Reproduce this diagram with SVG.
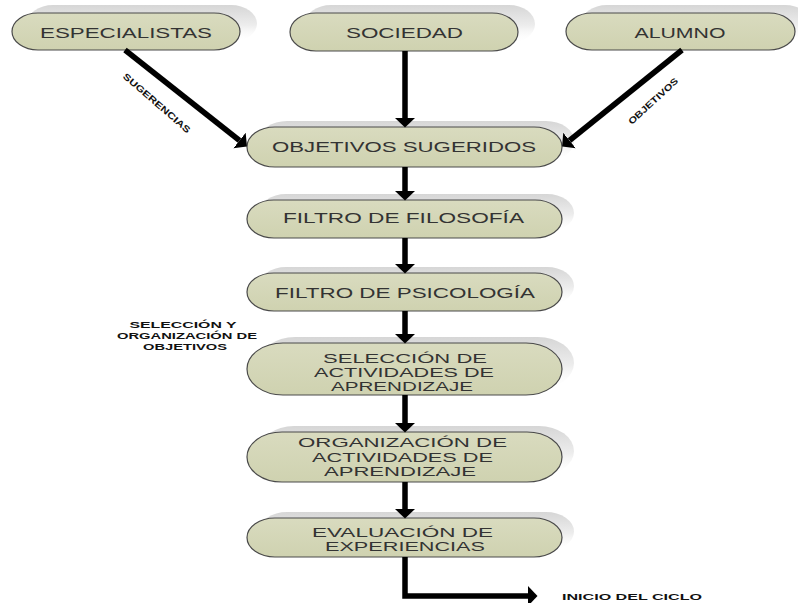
<svg xmlns="http://www.w3.org/2000/svg" width="798" height="603" viewBox="0 0 798 603">
  <defs>
    <linearGradient id="shade" x1="0" y1="0" x2="0" y2="1">
      <stop offset="0" stop-color="#d6d6d6"/>
      <stop offset="0.55" stop-color="#ededed"/>
      <stop offset="1" stop-color="#ffffff" stop-opacity="0"/>
    </linearGradient>
    <linearGradient id="pillFill" x1="0" y1="0" x2="0" y2="1">
      <stop offset="0" stop-color="#d9dbbf"/>
      <stop offset="1" stop-color="#cfd2b0"/>
    </linearGradient>
    <marker id="head" markerUnits="userSpaceOnUse" viewBox="0 -11 10 22" refX="0" refY="0" markerWidth="10" markerHeight="22" orient="auto">
      <path d="M0,-10 L9.5,0 L0,10 Z" fill="#000"/>
    </marker>
  </defs>
  <style>
    .shadow { fill: url(#shade); }
    .pill { fill: url(#pillFill); stroke: #4a4a4a; stroke-width: 1.2; }
    .lbl { font-family: "Liberation Sans", Arial, sans-serif; font-size: 15.5px; fill: #333; text-anchor: middle; }
    .lbl2 { font-family: "Liberation Sans", Arial, sans-serif; font-size: 13px; fill: #333; text-anchor: middle; }
    .tag { font-family: "Liberation Sans", Arial, sans-serif; font-size: 9px; font-weight: bold; fill: #111; text-anchor: middle; }
    .wire { fill: none; stroke: #000; stroke-width: 5.5; }
  </style>

  <rect width="798" height="603" fill="#ffffff"/>

  <!-- nodes -->
  <g id="especialistas">
    <rect class="shadow" x="27" y="5" width="230" height="37" rx="26" ry="18.5"/>
    <rect class="pill" x="12" y="13" width="228" height="37" rx="26" ry="18.5"/>
    <text class="lbl" x="126" y="37.5" textLength="172" lengthAdjust="spacingAndGlyphs">ESPECIALISTAS</text>
  </g>
  <g id="sociedad">
    <rect class="shadow" x="305" y="5" width="230" height="38" rx="26" ry="19"/>
    <rect class="pill" x="290" y="13" width="228" height="38" rx="26" ry="19"/>
    <text class="lbl" x="404.5" y="37.5" textLength="117" lengthAdjust="spacingAndGlyphs">SOCIEDAD</text>
  </g>
  <g id="alumno">
    <rect class="shadow" x="581" y="5" width="230" height="37" rx="26" ry="18.5"/>
    <rect class="pill" x="566" y="13" width="229" height="37" rx="26" ry="18.5"/>
    <text class="lbl" x="680" y="37.5" textLength="91" lengthAdjust="spacingAndGlyphs">ALUMNO</text>
  </g>
  <g id="objetivos-sugeridos">
    <rect class="shadow" x="259" y="121" width="315" height="40" rx="28" ry="20"/>
    <rect class="pill" x="247" y="127" width="315" height="40" rx="28" ry="20"/>
    <text class="lbl" x="404" y="151.5" textLength="264" lengthAdjust="spacingAndGlyphs">OBJETIVOS SUGERIDOS</text>
  </g>
  <g id="filtro-filosofia">
    <rect class="shadow" x="259" y="194" width="315" height="38" rx="27" ry="19"/>
    <rect class="pill" x="247" y="200" width="315" height="38" rx="27" ry="19"/>
    <text class="lbl" x="403.5" y="222.5" textLength="241" lengthAdjust="spacingAndGlyphs">FILTRO DE FILOSOFÍA</text>
  </g>
  <g id="filtro-psicologia">
    <rect class="shadow" x="259" y="267" width="315" height="38" rx="27" ry="19"/>
    <rect class="pill" x="247" y="273" width="315" height="38" rx="27" ry="19"/>
    <text class="lbl" x="405" y="297.5" textLength="260" lengthAdjust="spacingAndGlyphs">FILTRO DE PSICOLOGÍA</text>
  </g>
  <g id="seleccion-actividades">
    <rect class="shadow" x="259" y="337" width="315" height="52" rx="36" ry="26"/>
    <rect class="pill" x="247" y="343" width="315" height="52" rx="36" ry="26"/>
    <text class="lbl2" x="405" y="362.5" textLength="164" lengthAdjust="spacingAndGlyphs">SELECCIÓN DE</text>
    <text class="lbl2" x="404" y="376.5" textLength="180" lengthAdjust="spacingAndGlyphs">ACTIVIDADES DE</text>
    <text class="lbl2" x="402" y="390.5" textLength="142" lengthAdjust="spacingAndGlyphs">APRENDIZAJE</text>
  </g>
  <g id="organizacion-actividades">
    <rect class="shadow" x="259" y="426" width="315" height="50" rx="35" ry="25"/>
    <rect class="pill" x="247" y="432" width="315" height="50" rx="35" ry="25"/>
    <text class="lbl2" x="402.5" y="447" textLength="209" lengthAdjust="spacingAndGlyphs">ORGANIZACIÓN DE</text>
    <text class="lbl2" x="402.5" y="461.5" textLength="181" lengthAdjust="spacingAndGlyphs">ACTIVIDADES DE</text>
    <text class="lbl2" x="400" y="476" textLength="152" lengthAdjust="spacingAndGlyphs">APRENDIZAJE</text>
  </g>
  <g id="evaluacion-experiencias">
    <rect class="shadow" x="259" y="512" width="315" height="39" rx="28" ry="19.5"/>
    <rect class="pill" x="247" y="518" width="315" height="39" rx="28" ry="19.5"/>
    <text class="lbl2" x="402.5" y="536.5" textLength="181" lengthAdjust="spacingAndGlyphs">EVALUACIÓN DE</text>
    <text class="lbl2" x="405" y="551" textLength="160" lengthAdjust="spacingAndGlyphs">EXPERIENCIAS</text>
  </g>

  <!-- connectors -->
  <g id="connectors">
    <line class="wire" x1="125" y1="50" x2="239.5" y2="140.5" marker-end="url(#head)"/>
    <line class="wire" x1="405" y1="51" x2="405" y2="118" marker-end="url(#head)"/>
    <line class="wire" x1="682" y1="50" x2="569.5" y2="140.5" marker-end="url(#head)"/>
    <line class="wire" x1="405" y1="167" x2="405" y2="191" marker-end="url(#head)"/>
    <line class="wire" x1="405" y1="238" x2="405" y2="264" marker-end="url(#head)"/>
    <line class="wire" x1="405" y1="311" x2="405" y2="334" marker-end="url(#head)"/>
    <line class="wire" x1="405" y1="395" x2="405" y2="423" marker-end="url(#head)"/>
    <line class="wire" x1="405" y1="482" x2="405" y2="509" marker-end="url(#head)"/>
    <polyline class="wire" points="405,557 405,596 528,596" marker-end="url(#head)"/>
  </g>

  <!-- edge labels -->
  <g id="edge-labels">
    <text class="tag" transform="translate(157,103) rotate(41)" x="0" y="3.3" textLength="86" lengthAdjust="spacingAndGlyphs">SUGERENCIAS</text>
    <text class="tag" transform="translate(653,101) rotate(-42.5)" x="0" y="3.3" textLength="64" lengthAdjust="spacingAndGlyphs">OBJETIVOS</text>
    <text class="tag" x="183" y="328" textLength="107" lengthAdjust="spacingAndGlyphs">SELECCIÓN Y</text>
    <text class="tag" x="187" y="339" textLength="140" lengthAdjust="spacingAndGlyphs">ORGANIZACIÓN DE</text>
    <text class="tag" x="185" y="349.5" textLength="84" lengthAdjust="spacingAndGlyphs">OBJETIVOS</text>
    <text class="tag" x="562" y="599.5" style="text-anchor:start" textLength="140" lengthAdjust="spacingAndGlyphs">INICIO DEL CICLO</text>
  </g>
</svg>
